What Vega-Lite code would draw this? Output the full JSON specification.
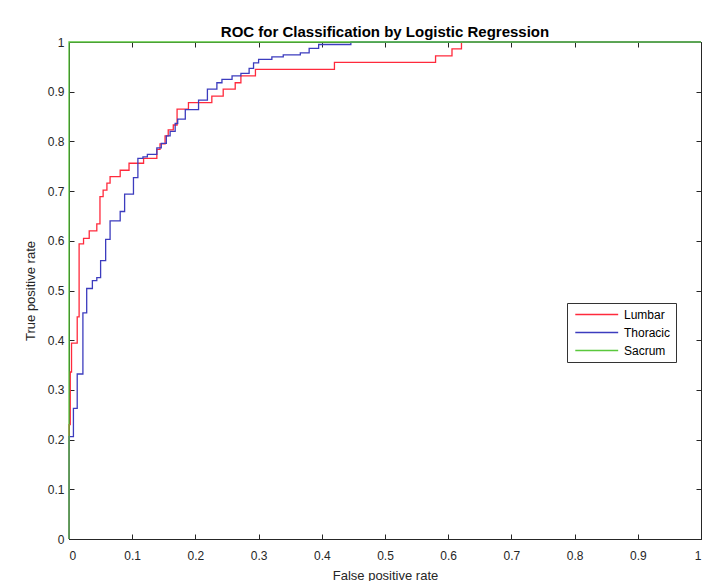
{
  "$schema": "https://vega.github.io/schema/vega-lite/v6.json",
  "width": 632,
  "height": 497,
  "autosize": {"type": "none"},
  "padding": {"left": 69, "top": 42, "right": 8, "bottom": 42},
  "background": "white",
  "title": {"text": "ROC for Classification by Logistic Regression", "font": "Liberation Sans", "fontSize": 15, "fontWeight": "bold", "color": "#000000", "offset": -4, "anchor": "middle"},
  "config": {
    "view": {"stroke": "#262626", "strokeWidth": 1},
    "axis": {"grid": false, "labelFont": "Liberation Sans", "labelFontSize": 12, "labelColor": "#262626", "titleFont": "Liberation Sans", "titleFontSize": 13, "titleFontWeight": "normal", "titleColor": "#262626", "domainColor": "#262626", "tickColor": "#262626", "tickSize": -5}
  },
  "data": {"values": [
    {"series": "Lumbar", "order": 0, "fpr": 0, "tpr": 0},
    {"series": "Lumbar", "order": 1, "fpr": 0, "tpr": 0.23},
    {"series": "Lumbar", "order": 2, "fpr": 0.002, "tpr": 0.336},
    {"series": "Lumbar", "order": 3, "fpr": 0.004, "tpr": 0.394},
    {"series": "Lumbar", "order": 4, "fpr": 0.013, "tpr": 0.447},
    {"series": "Lumbar", "order": 5, "fpr": 0.016, "tpr": 0.594},
    {"series": "Lumbar", "order": 6, "fpr": 0.023, "tpr": 0.605},
    {"series": "Lumbar", "order": 7, "fpr": 0.032, "tpr": 0.62},
    {"series": "Lumbar", "order": 8, "fpr": 0.044, "tpr": 0.634},
    {"series": "Lumbar", "order": 9, "fpr": 0.049, "tpr": 0.689},
    {"series": "Lumbar", "order": 10, "fpr": 0.054, "tpr": 0.702},
    {"series": "Lumbar", "order": 11, "fpr": 0.06, "tpr": 0.716},
    {"series": "Lumbar", "order": 12, "fpr": 0.065, "tpr": 0.729},
    {"series": "Lumbar", "order": 13, "fpr": 0.081, "tpr": 0.742},
    {"series": "Lumbar", "order": 14, "fpr": 0.095, "tpr": 0.756},
    {"series": "Lumbar", "order": 15, "fpr": 0.118, "tpr": 0.766},
    {"series": "Lumbar", "order": 16, "fpr": 0.139, "tpr": 0.784},
    {"series": "Lumbar", "order": 17, "fpr": 0.144, "tpr": 0.795},
    {"series": "Lumbar", "order": 18, "fpr": 0.152, "tpr": 0.811},
    {"series": "Lumbar", "order": 19, "fpr": 0.157, "tpr": 0.823},
    {"series": "Lumbar", "order": 20, "fpr": 0.165, "tpr": 0.833},
    {"series": "Lumbar", "order": 21, "fpr": 0.171, "tpr": 0.865},
    {"series": "Lumbar", "order": 22, "fpr": 0.189, "tpr": 0.878},
    {"series": "Lumbar", "order": 23, "fpr": 0.226, "tpr": 0.891},
    {"series": "Lumbar", "order": 24, "fpr": 0.244, "tpr": 0.905},
    {"series": "Lumbar", "order": 25, "fpr": 0.263, "tpr": 0.918},
    {"series": "Lumbar", "order": 26, "fpr": 0.272, "tpr": 0.932},
    {"series": "Lumbar", "order": 27, "fpr": 0.295, "tpr": 0.945},
    {"series": "Lumbar", "order": 28, "fpr": 0.42, "tpr": 0.959},
    {"series": "Lumbar", "order": 29, "fpr": 0.58, "tpr": 0.972},
    {"series": "Lumbar", "order": 30, "fpr": 0.606, "tpr": 0.986},
    {"series": "Lumbar", "order": 31, "fpr": 0.621, "tpr": 1},
    {"series": "Lumbar", "order": 32, "fpr": 1, "tpr": 1},
    {"series": "Thoracic", "order": 0, "fpr": 0, "tpr": 0},
    {"series": "Thoracic", "order": 1, "fpr": 0, "tpr": 0.206},
    {"series": "Thoracic", "order": 2, "fpr": 0.007, "tpr": 0.263},
    {"series": "Thoracic", "order": 3, "fpr": 0.013, "tpr": 0.332},
    {"series": "Thoracic", "order": 4, "fpr": 0.022, "tpr": 0.455},
    {"series": "Thoracic", "order": 5, "fpr": 0.028, "tpr": 0.504},
    {"series": "Thoracic", "order": 6, "fpr": 0.037, "tpr": 0.52},
    {"series": "Thoracic", "order": 7, "fpr": 0.044, "tpr": 0.526},
    {"series": "Thoracic", "order": 8, "fpr": 0.05, "tpr": 0.56},
    {"series": "Thoracic", "order": 9, "fpr": 0.058, "tpr": 0.603},
    {"series": "Thoracic", "order": 10, "fpr": 0.065, "tpr": 0.64},
    {"series": "Thoracic", "order": 11, "fpr": 0.081, "tpr": 0.659},
    {"series": "Thoracic", "order": 12, "fpr": 0.088, "tpr": 0.694},
    {"series": "Thoracic", "order": 13, "fpr": 0.102, "tpr": 0.727},
    {"series": "Thoracic", "order": 14, "fpr": 0.109, "tpr": 0.766},
    {"series": "Thoracic", "order": 15, "fpr": 0.117, "tpr": 0.769},
    {"series": "Thoracic", "order": 16, "fpr": 0.124, "tpr": 0.774},
    {"series": "Thoracic", "order": 17, "fpr": 0.139, "tpr": 0.787},
    {"series": "Thoracic", "order": 18, "fpr": 0.146, "tpr": 0.796},
    {"series": "Thoracic", "order": 19, "fpr": 0.154, "tpr": 0.811},
    {"series": "Thoracic", "order": 20, "fpr": 0.16, "tpr": 0.82},
    {"series": "Thoracic", "order": 21, "fpr": 0.168, "tpr": 0.836},
    {"series": "Thoracic", "order": 22, "fpr": 0.172, "tpr": 0.845},
    {"series": "Thoracic", "order": 23, "fpr": 0.184, "tpr": 0.864},
    {"series": "Thoracic", "order": 24, "fpr": 0.205, "tpr": 0.883},
    {"series": "Thoracic", "order": 25, "fpr": 0.219, "tpr": 0.905},
    {"series": "Thoracic", "order": 26, "fpr": 0.234, "tpr": 0.918},
    {"series": "Thoracic", "order": 27, "fpr": 0.242, "tpr": 0.925},
    {"series": "Thoracic", "order": 28, "fpr": 0.258, "tpr": 0.932},
    {"series": "Thoracic", "order": 29, "fpr": 0.272, "tpr": 0.937},
    {"series": "Thoracic", "order": 30, "fpr": 0.285, "tpr": 0.947},
    {"series": "Thoracic", "order": 31, "fpr": 0.292, "tpr": 0.958},
    {"series": "Thoracic", "order": 32, "fpr": 0.3, "tpr": 0.965},
    {"series": "Thoracic", "order": 33, "fpr": 0.321, "tpr": 0.97},
    {"series": "Thoracic", "order": 34, "fpr": 0.339, "tpr": 0.974},
    {"series": "Thoracic", "order": 35, "fpr": 0.366, "tpr": 0.978},
    {"series": "Thoracic", "order": 36, "fpr": 0.38, "tpr": 0.987},
    {"series": "Thoracic", "order": 37, "fpr": 0.395, "tpr": 0.995},
    {"series": "Thoracic", "order": 38, "fpr": 0.446, "tpr": 1},
    {"series": "Thoracic", "order": 39, "fpr": 1, "tpr": 1},
    {"series": "Sacrum", "order": 0, "fpr": 0, "tpr": 0},
    {"series": "Sacrum", "order": 1, "fpr": 0, "tpr": 1},
    {"series": "Sacrum", "order": 2, "fpr": 1, "tpr": 1}
  ]},
  "layer": [
    {
      "mark": {"type": "line", "interpolate": "step-after", "strokeWidth": 1.3},
      "encoding": {
        "x": {"field": "fpr", "type": "quantitative", "scale": {"domain": [0, 1], "nice": false}, "title": "False positive rate", "axis": {"orient": "bottom", "tickCount": 10, "format": "~g", "labelPadding": 16, "titlePadding": 8}},
        "y": {"field": "tpr", "type": "quantitative", "scale": {"domain": [0, 1], "nice": false}, "title": "True positive rate", "axis": {"orient": "left", "tickCount": 10, "format": "~g", "labelPadding": 10, "titlePadding": 10}},
        "color": {"field": "series", "type": "nominal", "scale": {"domain": ["Lumbar", "Thoracic", "Sacrum"], "range": ["#ff2a3c", "#3c3cbe", "#5ac83c"]},
          "legend": {"title": null, "orient": "none", "legendX": 498, "legendY": 261, "symbolType": "M-0.6,0H7.4", "symbolSize": 115, "symbolStrokeWidth": 1.5, "symbolFillColor": "transparent", "labelFont": "Liberation Sans", "labelFontSize": 12, "labelColor": "#000000", "strokeColor": "#333333", "fillColor": "white", "padding": 5, "rowPadding": 5, "labelOffset": 39}},
        "order": {"field": "order", "type": "quantitative"}
      }
    },
    {
      "mark": {"type": "point", "opacity": 0},
      "encoding": {
        "x": {"field": "fpr", "type": "quantitative", "axis": {"orient": "top", "tickCount": 10, "labels": false, "title": null, "domain": false}},
        "y": {"field": "tpr", "type": "quantitative", "axis": {"orient": "right", "tickCount": 10, "labels": false, "title": null, "domain": false}}
      }
    }
  ],
  "resolve": {"axis": {"x": "independent", "y": "independent"}}
}
